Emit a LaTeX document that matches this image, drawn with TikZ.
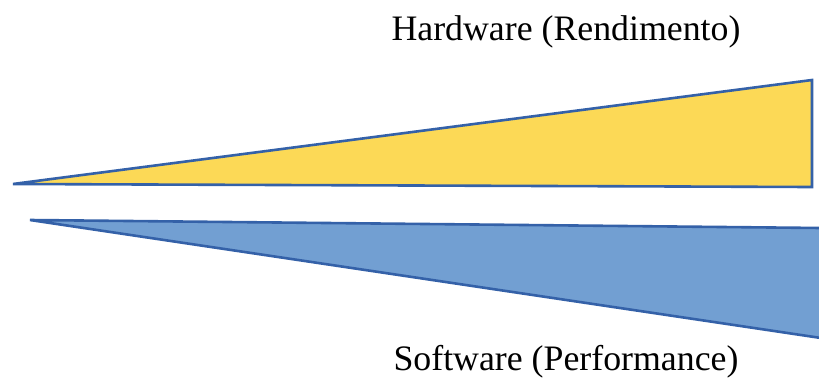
\documentclass[tikz,border=0pt]{standalone}
\usepackage{fontspec}
\setmainfont{Liberation Serif}
\definecolor{edgeblue}{HTML}{3461A8}
\definecolor{hwyellow}{HTML}{FCD956}
\definecolor{swblue}{HTML}{729FD2}
\begin{document}
\begin{tikzpicture}[x=1pt,y=-1pt,
  wedge/.style={draw=edgeblue,line width=2.6pt,line join=miter},
  label/.style={font=\fontsize{35.8}{38}\selectfont,inner sep=0pt,anchor=base}]
\useasboundingbox (0,0) rectangle (819,378);
\coordinate (hwtip) at (13,184);
\coordinate (hwtop) at (812,80);
\coordinate (hwbot) at (812,187);
\coordinate (swtip) at (30,220);
\coordinate (swtop) at (821,228);
\coordinate (swbot) at (821,338);
\path[wedge,fill=hwyellow] (hwtip) -- (hwtop) -- (hwbot) -- cycle;
\path[wedge,fill=swblue] (swtip) -- (swtop) -- (swbot) -- cycle;
\node[label] (hw) at (566,40) {Hardware (Rendimento)};
\node[label] (sw) at (566,370) {Software (Performance)};
\end{tikzpicture}
\end{document}
